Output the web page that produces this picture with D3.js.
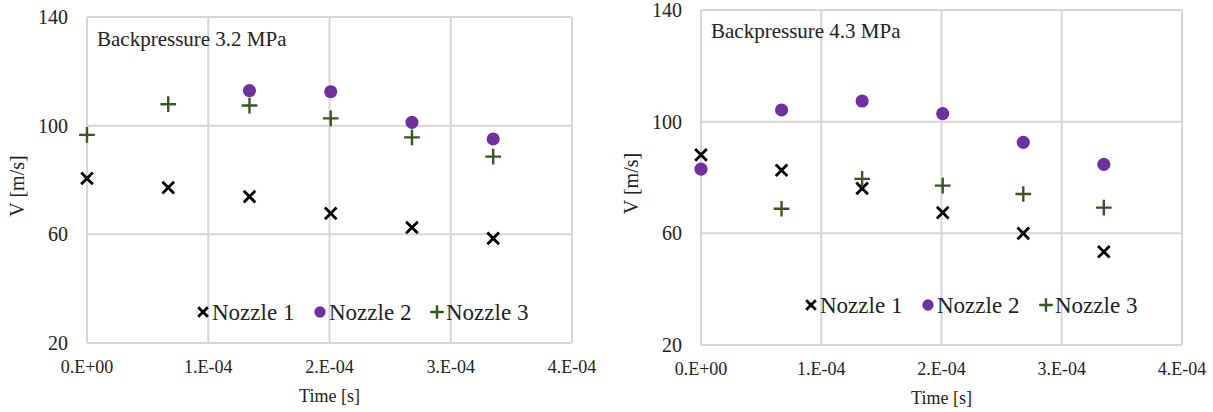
<!DOCTYPE html>
<html>
<head>
<meta charset="utf-8">
<script src="https://cdn.jsdelivr.net/npm/d3@7"></script>
<style>
  body { margin: 0; background: #fff; }
  svg text { font-family: "Liberation Serif", "Times New Roman", serif; fill: #222; }
</style>
</head>
<body>
<svg id="chart" width="1213" height="412"></svg>
<script>
// time points [s]
const times = [0, 6.7e-5, 1.34e-4, 2.01e-4, 2.68e-4, 3.35e-4];
const xTicks = [0, 1e-4, 2e-4, 3e-4, 4e-4];
const yTicks = [20, 60, 100, 140];
const seriesNames = ["Nozzle 1", "Nozzle 2", "Nozzle 3"];

// Backpressure 3.2 MPa (null = no point)
const bp32_n1 = [80.6, 77.2, 73.9, 67.7, 62.5, 58.5];
const bp32_n2 = [null, null, 112.9, 112.5, 101.2, 95.1];
const bp32_n3 = [96.6, 107.9, 107.4, 102.7, 95.7, 88.6];

// Backpressure 4.3 MPa
const bp43_n1 = [88.1, 82.6, 76.1, 67.4, 60.0, 53.4];
const bp43_n2 = [83.0, 104.2, 107.4, 102.9, 92.6, 84.7];
const bp43_n3 = [null, 68.8, 79.5, 77.1, 74.1, 69.2];

const svg = d3.select('#chart');

const styles = [
    { type: d3.symbolTimes, color: '#000000', size: 90, legSize: 62, stroke: 2.8, fill: 'none' },
    { type: d3.symbolCircle, color: '#7030a0', size: 135, legSize: 100, stroke: 0, fill: '#7030a0' },
    { type: d3.symbolPlus, color: '#375623', size: 82, legSize: 62, stroke: 2.4, fill: 'none' }
];

function fmtTick(d) {
    if (d === 0) return '0.E+00';
    return Math.round(d / 1e-4) + '.E-04';
}

function drawChart(cfg) {
    const g = svg.append('g');
    const x = d3.scaleLinear().domain([0, 4e-4]).range([cfg.left, cfg.right]);
    const y = d3.scaleLinear().domain([20, 140]).range([cfg.bottom, cfg.top]);

    // gridlines
    g.append('g')
        .selectAll('line.vg')
        .data(xTicks)
        .enter().append('line')
        .attr('x1', d => x(d)).attr('x2', d => x(d))
        .attr('y1', cfg.top).attr('y2', cfg.bottom)
        .attr('stroke', '#d6d6d6').attr('stroke-width', 2);
    g.append('g')
        .selectAll('line.hg')
        .data(yTicks)
        .enter().append('line')
        .attr('x1', cfg.left).attr('x2', cfg.right)
        .attr('y1', d => y(d)).attr('y2', d => y(d))
        .attr('stroke', '#d6d6d6').attr('stroke-width', 2);

    // tick labels
    g.append('g')
        .selectAll('text')
        .data(yTicks)
        .enter().append('text')
        .attr('x', cfg.left - 19)
        .attr('y', d => y(d) + 7)
        .attr('text-anchor', 'end')
        .style('font-size', '20px')
        .text(d => d);
    g.append('g')
        .selectAll('text')
        .data(xTicks)
        .enter().append('text')
        .attr('x', d => x(d))
        .attr('y', cfg.bottom + 30)
        .attr('text-anchor', 'middle')
        .style('font-size', '18px')
        .text(fmtTick);

    // axis titles
    g.append('text')
        .attr('x', (cfg.left + cfg.right) / 2)
        .attr('y', cfg.bottom + 59)
        .attr('text-anchor', 'middle')
        .style('font-size', '18px')
        .text('Time [s]');
    g.append('text')
        .attr('transform', `translate(${cfg.left - 63},${(cfg.top + cfg.bottom) / 2 + 6}) rotate(-90)`)
        .attr('text-anchor', 'middle')
        .style('font-size', '20px')
        .text('V [m/s]');

    // annotation
    g.append('text')
        .attr('x', cfg.left + 10)
        .attr('y', cfg.titleY)
        .style('font-size', '21px')
        .text(cfg.title);

    // points
    cfg.series.forEach((vals, i) => {
        const st = styles[i];
        const pts = times.map((t, j) => ({ t: t, v: vals[j] })).filter(p => p.v != null);
        g.append('g')
            .selectAll('path')
            .data(pts)
            .enter().append('path')
            .attr('transform', d => `translate(${x(d.t)},${y(d.v)})`)
            .attr('d', d3.symbol().type(st.type).size(st.size))
            .attr('fill', st.fill)
            .attr('stroke', st.stroke ? st.color : 'none')
            .attr('stroke-width', st.stroke);
    });

    // legend
    const leg = g.append('g').attr('transform', `translate(0,${cfg.legY})`);
    seriesNames.forEach((name, i) => {
        const st = styles[i];
        const lx = cfg.legX[i];
        leg.append('path')
            .attr('transform', `translate(${lx},0)`)
            .attr('d', d3.symbol().type(st.type).size(st.legSize))
            .attr('fill', st.fill)
            .attr('stroke', st.stroke ? st.color : 'none')
            .attr('stroke-width', st.stroke);
        leg.append('text')
            .attr('x', lx + 9)
            .attr('y', 8)
            .style('font-size', '23px')
            .text(name);
    });
}

drawChart({
    left: 87, right: 572, top: 17, bottom: 343,
    title: 'Backpressure 3.2 MPa', titleY: 46,
    series: [bp32_n1, bp32_n2, bp32_n3],
    legY: 312, legX: [203, 320, 437]
});

drawChart({
    left: 701, right: 1182, top: 10, bottom: 345,
    title: 'Backpressure 4.3 MPa', titleY: 38,
    series: [bp43_n1, bp43_n2, bp43_n3],
    legY: 305, legX: [811, 928, 1046]
});
</script>
</body>
</html>
